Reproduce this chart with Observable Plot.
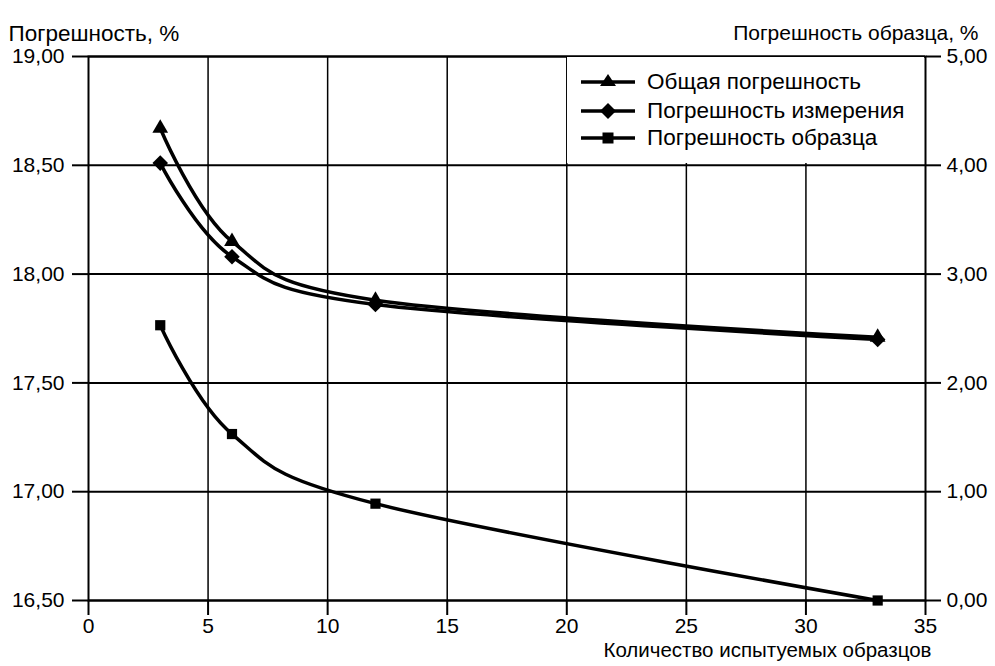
<!DOCTYPE html>
<html>
<head>
<meta charset="utf-8">
<script src="https://cdn.jsdelivr.net/npm/d3@7"></script>
<script src="https://cdn.jsdelivr.net/npm/@observablehq/plot@0.6"></script>
<style>
  body { margin: 0; background: #fff; }
  #wrap { position: relative; width: 995px; height: 666px; font-family: "Liberation Sans", Arial, sans-serif; }
  #legend { position: absolute; left: 567px; top: 57px; width: 357px; height: 106px; background: #fff; }
  .row { position: absolute; left: 14px; height: 28px; display: flex; align-items: center; font-size: 22.5px; color: #000; white-space: nowrap; }
  .row svg { margin-right: 12px; }
</style>
</head>
<body>
<div id="wrap"></div>
<script>
// ---- data ----
const nSamples = [3, 6, 12, 33];                 // Количество испытуемых образцов
const totalError = [18.67, 18.15, 17.88, 17.71]; // Общая погрешность, %
const measureError = [18.51, 18.08, 17.86, 17.70]; // Погрешность измерения, %
const sampleError = [2.53, 1.53, 0.89, 0.00];    // Погрешность образца, % (right axis)

const seriesNames = ["Общая погрешность", "Погрешность измерения", "Погрешность образца"];
const seriesSymbols = ["triangle2", "diamond2", "square2"];
const leftTicks = [16.5, 17, 17.5, 18, 18.5, 19];
const rightTicks = [0, 1, 2, 3, 4, 5];
const xTicks = [0, 5, 10, 15, 20, 25, 30, 35];
const leftTitle = "Погрешность, %";
const rightTitle = "Погрешность образца, %";
const xTitle = "Количество испытуемых образцов";

// right axis (0..5) mapped onto left scale (16.5..19)
const toLeft = v => 16.5 + v * 0.5;
const fmt = d => d.toFixed(2).replace(".", ",");

const total = nSamples.map((x, i) => ({x, y: totalError[i]}));
const measure = nSamples.map((x, i) => ({x, y: measureError[i]}));
const sample = nSamples.map((x, i) => ({x, y: toLeft(sampleError[i])}));

const font = "Liberation Sans, Arial, sans-serif";
const crv = "cardinal";

const chart = Plot.plot({
  width: 995,
  height: 666,
  marginTop: 56,
  marginBottom: 66,
  marginLeft: 88,
  marginRight: 70,
  style: {fontFamily: font, fontSize: "21px", color: "#000", background: "#fff"},
  x: {domain: [0, 35], label: null},
  y: {domain: [16.5, 19], label: null},
  marks: [
    Plot.gridX(xTicks.slice(1, -1), {stroke: "#000", strokeOpacity: 1, strokeWidth: 1.5}),
    Plot.gridY(leftTicks, {stroke: "#000", strokeOpacity: 1, strokeWidth: 2}),
    Plot.frame({stroke: "#000", strokeWidth: 2}),
    Plot.axisX(xTicks, {tickSize: 15, tickPadding: 3, tickFormat: d => String(d), fontSize: 21, strokeWidth: 2, label: null}),
    Plot.axisY(leftTicks, {anchor: "left", tickSize: 16, tickPadding: 8, tickFormat: fmt, fontSize: 21, strokeWidth: 2, label: null}),
    Plot.axisY(rightTicks.map(toLeft), {anchor: "right", tickSize: 15, tickPadding: 6, tickFormat: d => fmt((d - 16.5) * 2), fontSize: 21, strokeWidth: 2, label: null}),
    Plot.line(total, {x: "x", y: "y", curve: crv, stroke: "#000", strokeWidth: 3.5}),
    Plot.line(measure, {x: "x", y: "y", curve: crv, stroke: "#000", strokeWidth: 3.5}),
    Plot.line(sample, {x: "x", y: "y", curve: crv, stroke: "#000", strokeWidth: 3.5}),
    Plot.dot(total, {x: "x", y: "y", symbol: seriesSymbols[0], r: 7.5, fill: "#000"}),
    Plot.dot(measure, {x: "x", y: "y", symbol: seriesSymbols[1], r: 7, fill: "#000"}),
    Plot.dot(sample, {x: "x", y: "y", symbol: seriesSymbols[2], r: 6.5, fill: "#000"}),
    Plot.text([leftTitle], {frameAnchor: "top-left", text: d => d, dx: -80, dy: -31, textAnchor: "start", fontSize: 22.5, fill: "#000"}),
    Plot.text([rightTitle], {frameAnchor: "top-right", text: d => d, dx: 53, dy: -31, textAnchor: "end", fontSize: 21, fill: "#000"}),
    Plot.text([xTitle], {frameAnchor: "bottom-right", text: d => d, dx: 6, dy: 56, textAnchor: "end", fontSize: 20.5, fill: "#000"})
  ]
});

const wrap = document.getElementById("wrap");
wrap.appendChild(chart);

// legend box (white cell over the grid)
const legend = document.createElement("div");
legend.id = "legend";
const symbolPaths = {
  triangle2: '<path d="M27,3 L35,15 L19,15 Z" fill="#000"/>',
  diamond2: '<path d="M27,3 L35,11 L27,19 L19,11 Z" fill="#000"/>',
  square2: '<rect x="21.5" y="5.5" width="11" height="11" fill="#000"/>'
};
const rowTops = [11, 40, 67];
seriesNames.forEach((name, i) => {
  const row = document.createElement("div");
  row.className = "row";
  row.style.top = rowTops[i] + "px";
  row.innerHTML = '<svg width="54" height="22" viewBox="0 0 54 22"><line x1="0" y1="11" x2="54" y2="11" stroke="#000" stroke-width="3.5"/>' + symbolPaths[seriesSymbols[i]] + '</svg><span>' + name + '</span>';
  legend.appendChild(row);
});
wrap.appendChild(legend);
</script>
</body>
</html>
